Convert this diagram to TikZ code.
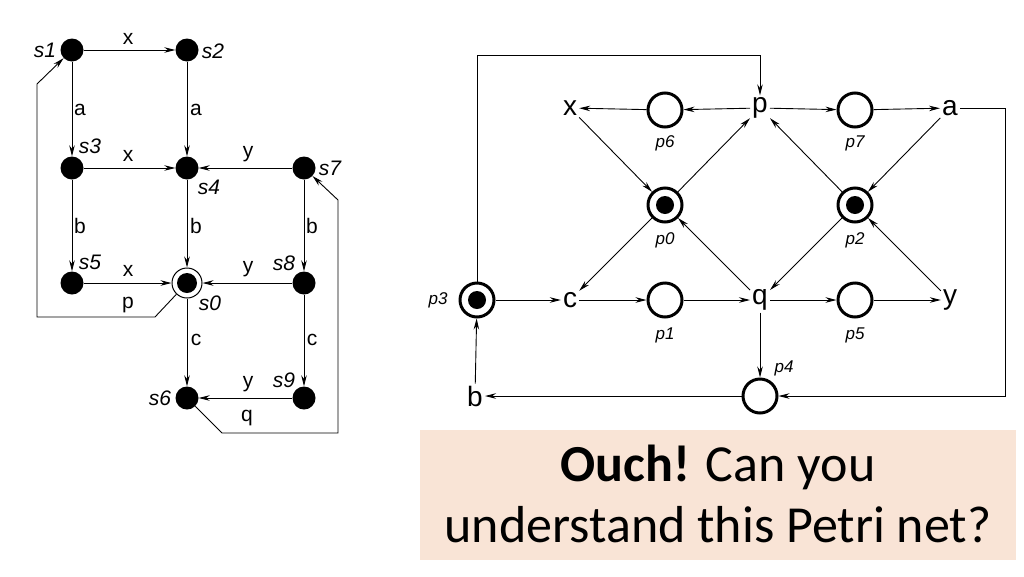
\documentclass[tikz,border=0pt]{standalone}
\usepackage{fontspec}
\setmainfont{Liberation Sans}
\newfontfamily\carl{Carlito}
\usetikzlibrary{arrows.meta}
\definecolor{peach}{RGB}{249,228,214}
\begin{document}
\begin{tikzpicture}[x=1pt,y=-1pt,
  ar/.style={-{Stealth[length=11pt,width=5.5pt]},line width=0.9pt},
  st/.style={circle,fill=black,minimum size=23pt,inner sep=0},
  st0/.style={circle,fill=black,minimum size=20pt,inner sep=0},
  slab/.style={font=\itshape\fontsize{21}{21}\selectfont,inner sep=0},
  elab/.style={font=\fontsize{21}{21}\selectfont,inner sep=0},
  pl/.style={circle,draw,line width=3pt,minimum size=34pt,inner sep=0},
  tok/.style={circle,fill=black,minimum size=18pt,inner sep=0},
  tr/.style={font=\fontsize{28}{28}\selectfont,inner sep=2pt},
  plab/.style={font=\itshape\fontsize{17}{17}\selectfont,inner sep=0}]
\useasboundingbox (0,0) rectangle (1024,576);
% ---------- left transition system
\node[st] (s1) at (72,50) {};
\node[st] (s2) at (187,50) {};
\node[st] (s3) at (72,168) {};
\node[st] (s4) at (187,168) {};
\node[st] (s7) at (304,168) {};
\node[st] (s5) at (72,283) {};
\node[st0] (s0) at (187,283) {};
\node[circle,draw,line width=1pt,minimum size=30pt,inner sep=0] (s0o) at (187,283) {};
\node[st] (s8) at (304,283) {};
\node[st] (s6) at (187,398) {};
\node[st] (s9) at (304,398) {};
\node[slab] at (45,50) {s1};
\node[slab] at (213,51) {s2};
\node[slab] at (90,146) {s3};
\node[slab] at (209,187) {s4};
\node[slab] at (330,168) {s7};
\node[slab] at (90,262) {s5};
\node[slab] at (210,303) {s0};
\node[slab] at (284,263) {s8};
\node[slab] at (284,380) {s9};
\node[slab] at (160,398) {s6};
\draw[ar] (s1) -- (s2);
\draw[ar] (s1) -- (s3);
\draw[ar] (s2) -- (s4);
\draw[ar] (s3) -- (s4);
\draw[ar] (s7) -- (s4);
\draw[ar] (s3) -- (s5);
\draw[ar] (s4) -- (s0o);
\draw[ar] (s7) -- (s8);
\draw[ar] (s5) -- (s0o);
\draw[ar] (s8) -- (s0o);
\draw[ar] (s0o) -- (s6);
\draw[ar] (s8) -- (s9);
\draw[ar] (s9) -- (s6);
\coordinate (pa) at (155,317); \coordinate (pb) at (37,317); \coordinate (pc) at (37,84);
\draw[ar] (s0o) -- (pa) -- (pb) -- (pc) -- (s1);
\coordinate (qa) at (222,433); \coordinate (qb) at (338,433); \coordinate (qc) at (338,200);
\draw[ar] (s6) -- (qa) -- (qb) -- (qc) -- (s7);
\node[elab] at (128,39) {x};
\node[elab] at (80,110) {a};
\node[elab] at (196,110) {a};
\node[elab] at (128,156) {x};
\node[elab] at (248,154) {y};
\node[elab] at (80,226) {b};
\node[elab] at (196,226) {b};
\node[elab] at (312,226) {b};
\node[elab] at (128,271) {x};
\node[elab] at (248,269) {y};
\node[elab] at (128,305) {p};
\node[elab] at (196,340) {c};
\node[elab] at (312,340) {c};
\node[elab] at (248,384) {y};
\node[elab] at (247,418) {q};
% ---------- right Petri net
\node[tr] (x) at (570,108) {x};
\node[tr] (p) at (760,108) {p};
\node[tr] (a) at (950,108) {a};
\node[tr] (c) at (570,300) {c};
\node[tr] (q) at (760,300) {q};
\node[tr] (y) at (950,300) {y};
\node[tr] (b) at (475,396) {b};
\node[pl] (p6) at (665,110) {};
\node[pl] (p7) at (855,110) {};
\node[pl] (p0) at (665,205) {}; \node[tok] at (p0) {};
\node[pl] (p2) at (855,205) {}; \node[tok] at (p2) {};
\node[pl] (p3) at (477,300) {}; \node[tok] at (p3) {};
\node[pl] (p1) at (665,300) {};
\node[pl] (p5) at (855,300) {};
\node[pl] (p4) at (760,396) {};
\node[plab] at (665,143) {p6};
\node[plab] at (855,143) {p7};
\node[plab] at (665,240) {p0};
\node[plab] at (855,240) {p2};
\node[plab] at (665,335) {p1};
\node[plab] at (855,335) {p5};
\node[plab] at (438,300) {p3};
\node[plab] at (784,368) {p4};
\draw[ar] (p) -- (p6);
\draw[ar] (p6) -- (x);
\draw[ar] (p) -- (p7);
\draw[ar] (p7) -- (a);
\draw[ar] (x) -- (p0);
\draw[ar] (p0) -- (p);
\draw[ar] (a) -- (p2);
\draw[ar] (p2) -- (p);
\draw[ar] (p0) -- (c);
\draw[ar] (q) -- (p0);
\draw[ar] (p2) -- (q);
\draw[ar] (y) -- (p2);
\draw[ar] (p3) -- (c);
\draw[ar] (c) -- (p1);
\draw[ar] (p1) -- (q);
\draw[ar] (q) -- (p5);
\draw[ar] (p5) -- (y);
\draw[ar] (q) -- (p4);
\draw[ar] (p4) -- (b);
\draw[ar] (b) -- (p3);
\coordinate (ra) at (1005,108); \coordinate (rb) at (1005,396);
\draw[ar] (a) -- (ra) -- (rb) -- (p4);
\coordinate (ta) at (477,55); \coordinate (tb) at (760,55);
\draw[ar] (p3) -- (ta) -- (tb) -- (p);
% ---------- caption box
\node[fill=peach,minimum width=596pt,minimum height=130pt,inner sep=0] (box) at (718,495) {};
\node[font=\carl\fontsize{52}{52}\selectfont,inner sep=0] (t1) at (718,467) {\textbf{Ouch!} Can you};
\node[font=\carl\fontsize{52}{52}\selectfont,inner sep=0] (t2) at (718,525) {understand this Petri net?};
\end{tikzpicture}
\end{document}
